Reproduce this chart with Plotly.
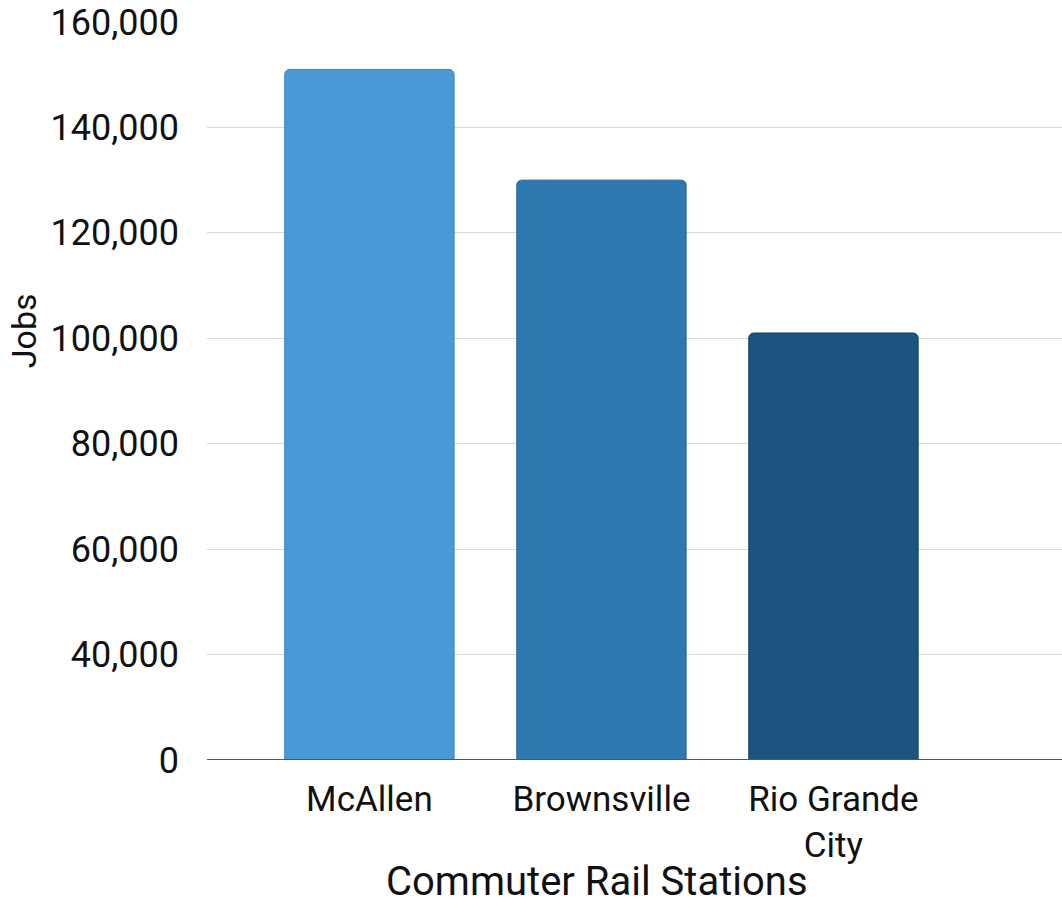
import plotly.graph_objects as go

# Jobs reachable at each commuter rail station
stations = ["McAllen", "Brownsville", "Rio Grande<br>City"]
jobs = [151000, 130000, 101000]
bar_colors = ["#4899d6", "#2e78b2", "#1b557f"]
edge_colors = ["#3a85c0", "#23649a", "#133f60"]

# y-axis tick positions and their printed labels
tick_vals = [20000, 40000, 60000, 80000, 100000, 120000, 140000, 160000]
tick_text = ["0", "40,000", "60,000", "80,000", "100,000", "120,000", "140,000", "160,000"]

FONT = "Roboto, Liberation Sans, Arial, sans-serif"

fig = go.Figure(
    go.Bar(
        x=stations,
        y=jobs,
        width=0.73,
        marker=dict(color=bar_colors, line=dict(color=edge_colors, width=1)),
        hoverinfo="x+y",
    )
)

fig.update_layout(
    width=1062,
    height=905,
    margin=dict(l=207, r=0, t=22, b=145),
    paper_bgcolor="white",
    plot_bgcolor="white",
    barcornerradius=5,
    showlegend=False,
    font=dict(family=FONT, color="#111111"),
)

fig.update_xaxes(
    range=[-0.70, 2.985],
    showgrid=False,
    showline=False,
    ticks="",
    tickfont=dict(size=35, color="#111111"),
    ticklabelstandoff=15,
)

fig.update_yaxes(
    range=[20000, 160000],
    tickvals=tick_vals,
    ticktext=tick_text,
    showgrid=True,
    gridcolor="#d9d9d9",
    gridwidth=1,
    zeroline=False,
    showline=False,
    ticks="",
    tickfont=dict(size=36, color="#111111"),
    ticklabelstandoff=27,
)

# x-axis title, centred under the bars
fig.add_annotation(
    text="Commuter Rail Stations",
    xref="paper", yref="paper", x=0.456, y=0,
    xanchor="center", yanchor="middle", yshift=-121,
    showarrow=False, font=dict(size=40, color="#111111"),
)

# y-axis title, set above the vertical middle of the plot
fig.add_annotation(
    text="Jobs", textangle=-90,
    xref="paper", yref="paper", x=0, y=0.581,
    xanchor="center", yanchor="middle", xshift=-183,
    showarrow=False, font=dict(size=34, color="#111111"),
)

# baseline under the bars
fig.add_shape(
    type="line", xref="paper", yref="y",
    x0=0, x1=1, y0=20000, y1=20000,
    line=dict(color="#555555", width=2),
)

fig.write_html("out.html")
